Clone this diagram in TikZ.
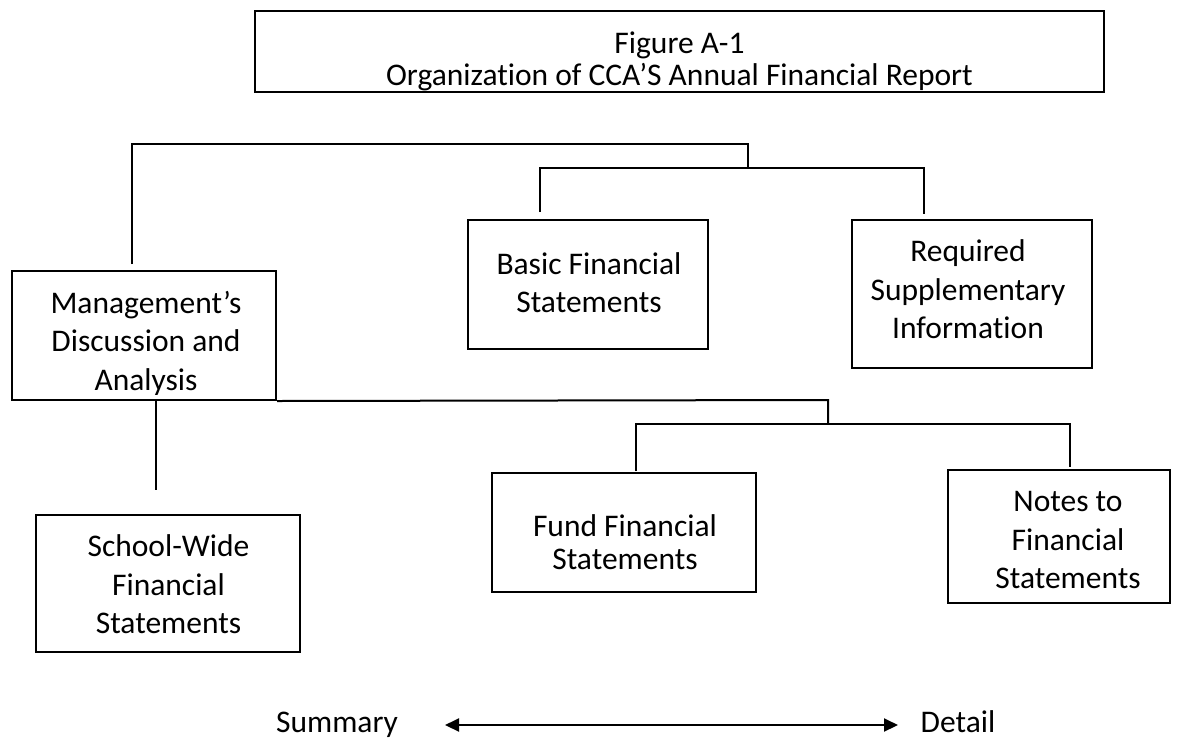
\documentclass[tikz,border=0pt]{standalone}
\usepackage{fontspec}
\setmainfont{Carlito}[Ligatures={NoCommon}]
\usetikzlibrary{arrows.meta,calc}
\newcommand{\lines}[1]{\begin{tabular}[t]{@{}c@{}}#1\end{tabular}}
\begin{document}
\begin{tikzpicture}[x=1pt,y=-1pt,
  box/.style={draw,line width=2pt,rectangle,inner sep=0pt},
  txt/.style={inner sep=0pt,anchor=base,font=\fontsize{31.5}{38.5}\selectfont},
  tight/.style={inner sep=0pt,anchor=base,font=\fontsize{31.5}{32.6}\selectfont},
  conn/.style={line width=2pt}]
\useasboundingbox (0,0) rectangle (1178,740);
% title
\node[box,minimum width=849pt,minimum height=81pt] (title) at (679.5,51.5) {};
\node[tight] (titletext) at (679.5,53.3)
  {\lines{Figure A-1\\Organization of CCA’S Annual Financial Report}};
% boxes
\node[box,minimum width=264pt,minimum height=129pt] (md) at (144,335.5) {};
\begin{scope}
  \clip (md.north west) rectangle ($(md.south east)+(0,-7)$);
  \node[txt] (mdtext) at (146,313) {\lines{Management’s\\Discussion and\\Analysis}};
\end{scope}
\node[box,minimum width=240pt,minimum height=129pt] (bfs) at (588,284.5) {};
\node[txt] (bfstext) at (589,274) {\lines{Basic Financial\\Statements}};
\node[box,minimum width=240pt,minimum height=148pt] (rsi) at (972,294) {};
\node[txt] (rsitext) at (968,261.7) {\lines{Required\\Supplementary\\Information}};
\node[box,minimum width=264pt,minimum height=137pt] (sw) at (168,583.5) {};
\node[txt] (swtext) at (168.5,556.7) {\lines{School-Wide\\Financial\\Statements}};
\node[box,minimum width=264pt,minimum height=119pt] (ffs) at (624,532.5) {};
\node[tight] (ffstext) at (625,536.7) {\lines{Fund Financial\\Statements}};
\node[box,minimum width=222pt,minimum height=133pt] (nfs) at (1059,536.5) {};
\node[txt] (nfstext) at (1068,511.7) {\lines{Notes to\\Financial\\Statements}};
% connector ends and junctions
\coordinate (mdTop) at (132,264);
\coordinate (j1) at (748,144);
\coordinate (j2) at (748,168);
\coordinate (bfsEnd) at (540,212);
\coordinate (rsiEnd) at (924,214);
\coordinate (swEnd) at (156,490);
\coordinate (j3) at (828,400);
\coordinate (j4) at (828,424);
\coordinate (ffsEnd) at (636,471);
\coordinate (nfsEnd) at (1070,467);
% top tree
\draw[conn] (mdTop) |- (j1) -- (j2);
\draw[conn] (bfsEnd) |- (j2) -| (rsiEnd);
% bottom tree
\draw[conn] (md.south -| swEnd) -- (swEnd);
\draw[conn] (md.south east) -- (j3) -- (j4);
\draw[conn] (ffsEnd) |- (j4) -| (nfsEnd);
% summary / detail
\node[txt] (sum) at (337,732) {Summary};
\node[txt] (det) at (958,732) {Detail};
\coordinate (aL) at (445,725);
\coordinate (aR) at (898,725);
\draw[conn,{Triangle[length=14pt,width=13pt]}-{Triangle[length=14pt,width=13pt]}] (aL) -- (aR);
\end{tikzpicture}
\end{document}
